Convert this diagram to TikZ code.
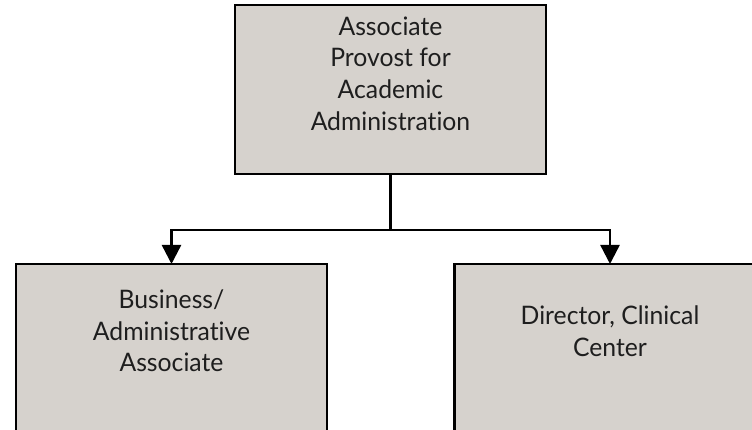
\documentclass[tikz,border=0pt]{standalone}
\usepackage{fontspec}
\setmainfont{Lato}[FakeStretch=0.97,RawFeature=-liga]
\usetikzlibrary{arrows.meta}
\definecolor{boxfill}{HTML}{D6D2CD}
\definecolor{txt}{HTML}{1E1E1E}
\begin{document}
\begin{tikzpicture}[x=1pt,y=-1pt,
  orgbox/.style={draw=black,line width=2.6pt,fill=boxfill,minimum width=311pt,minimum height=169pt,inner sep=0pt,outer sep=0pt},
  orgtext/.style={text=txt,align=center,font=\fontsize{25.5}{31.6}\selectfont,inner sep=0pt,anchor=north},
  conn/.style={line width=2.4pt,black},
  tip/.style={-{Triangle[length=19pt,width=19pt]}}]
\path[use as bounding box,clip] (0,0) rectangle (752,430);
\node[orgbox] (top) at (390.5,89.5) {};
\node[orgbox] (left) at (171.5,348.5) {};
\node[orgbox] (right) at (610,348.5) {};
\node[orgtext] (ttop) at (390.5,16.5) {Associate\\Provost for\\Academic\\Administration};
\node[orgtext] (tleft) at (171.5,289.5) {Business/\\Administrative\\Associate};
\node[orgtext] (tright) at (610,305.5) {Director, Clinical\\Center};
\coordinate (split) at (390.5,230);
\draw[conn] (top.south) -- (split);
\draw[conn,tip] (split) -| (left.north);
\draw[conn,tip] (split) -| (right.north);
\end{tikzpicture}
\end{document}
